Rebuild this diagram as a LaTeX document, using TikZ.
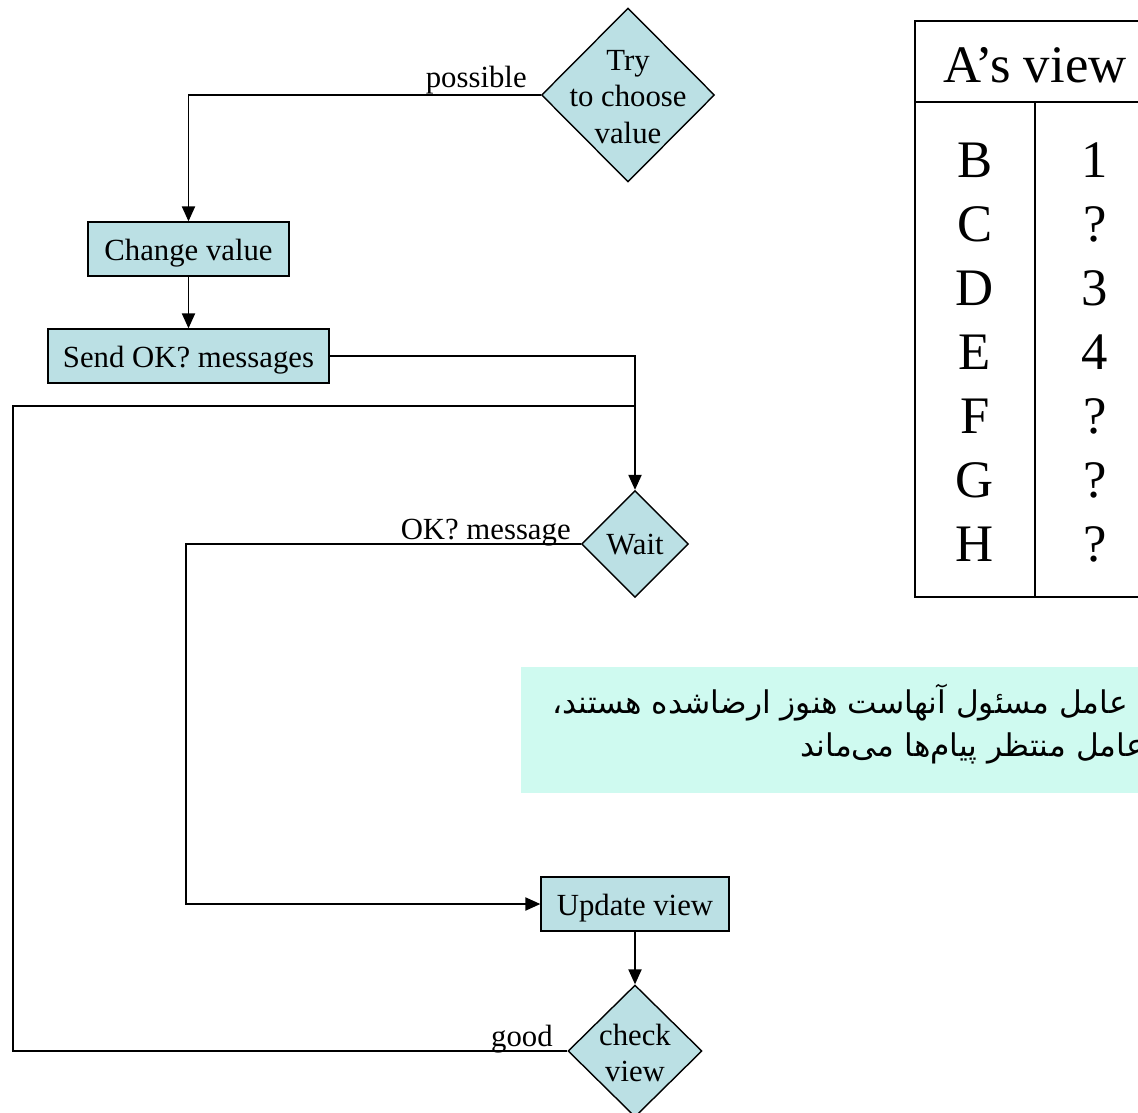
\documentclass[tikz,border=0pt]{standalone}
\usepackage{fontspec}
\setmainfont{Liberation Serif}
\newfontfamily\arabicfont[Script=Arabic]{DejaVu Sans}
\TeXXeTstate=1
\usetikzlibrary{shapes.geometric,arrows.meta}

\definecolor{boxblue}{RGB}{187,224,228}
\definecolor{notemint}{RGB}{207,250,240}

\tikzset{
  flowbox/.style = {draw, fill=boxblue, line width=0.8pt, inner sep=0pt, minimum height=1.08cm, text height=13.6pt, text depth=0pt, font=\fontsize{17.5}{21}\selectfont},
  flowdia/.style = {draw, fill=boxblue, line width=0.8pt, diamond, inner sep=0pt},
  diatxt/.style = {align=center, inner sep=0pt, font=\fontsize{17.5}{21}\selectfont},
  edgetxt/.style = {anchor=base east, inner sep=0pt, font=\fontsize{17.5}{21}\selectfont},
  tabtxt/.style = {inner sep=0pt, font=\fontsize{30}{36}\selectfont},
  persian/.style = {anchor=base east, inner sep=0pt, font=\arabicfont\fontsize{17.8}{22}\selectfont},
  arr/.style = {line width=0.8pt, -{Triangle[length=8.5pt,width=7.5pt]}},
  ln/.style = {line width=0.8pt}
}

\begin{document}
\begin{tikzpicture}[x=0.02cm, y=-0.02cm]

\useasboundingbox (0,0) rectangle (1138,1112);

% flow chart
\node[flowdia, minimum width=3.46cm, minimum height=3.48cm] (try) at (628,95) {};
\node[diatxt] (trytxt) at (628,97) {Try\\to choose\\value};

\node[flowbox, minimum width=4.02cm] (chg) at (188.5,249) {Change value};
\node[flowbox, minimum width=5.62cm] (send) at (188.5,356) {Send OK? messages};

\node[flowdia, minimum width=2.14cm, minimum height=2.14cm] (wait) at (635,544) {};
\node[diatxt] (waittxt) at (635,545) {Wait};

\node[flowbox, minimum width=3.76cm] (upd) at (635,904) {Update view};

\node[flowdia, minimum width=2.68cm, minimum height=2.64cm] (check) at (635,1051) {};
\node[diatxt] (checktxt) at (635,1053) {check\\view};

\node[edgetxt] (possible) at (527,87) {possible};
\node[edgetxt] (okmsg) at (571,539) {OK? message};
\node[edgetxt] (good) at (553,1046) {good};

\coordinate (joinc) at (635,406);
\coordinate (loopl) at (13,406);
\coordinate (okc) at (186,544);

\draw[arr] (try.west) -| (chg.north);
\draw[arr] (chg.south) -- (send.north);
\draw[arr] (send.east) -| (wait.north);
\draw[ln] (check.west) -| (loopl) -- (joinc);
\draw[arr] (wait.west) -- (okc) |- (upd.west);
\draw[arr] (upd.south) -- (check.north);

% table
\draw[ln] (915,21) rectangle (1170,597);
\draw[ln] (915,102) -- (1170,102);
\draw[ln] (1035,102) -- (1035,597);
\node[tabtxt] (head) at (1035,65) {A’s view};

\foreach \l/\v [count=\i] in {B/1,C/?,D/3,E/4,F/?,G/?,H/?}{
  \node[tabtxt] (let\l) at (975,{96+64*\i}) {\l};
  \node[tabtxt] (val\l) at (1095,{96+64*\i}) {\v};
}

% note
\fill[notemint] (521,667) rectangle (1170,793);
\node[persian] (pline1) at (1128,713) {\beginR عامل مسئول آنهاست هنوز ارضاشده هستند،\endR};
\node[persian] (pline2) at (1145,756) {\beginR عامل منتظر پیام‌ها می‌ماند\endR};

\end{tikzpicture}
\end{document}
